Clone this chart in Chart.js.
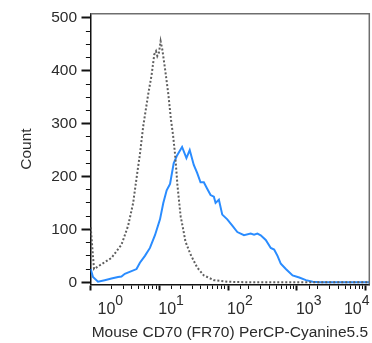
<!DOCTYPE html>
<html>
<head>
<meta charset="utf-8">
<script src="https://cdn.jsdelivr.net/npm/chart.js@4.4.1/dist/chart.umd.min.js"></script>
<style>
html,body{margin:0;padding:0;background:#fff;}
#c{display:block;}
</style>
</head>
<body>
<canvas id="c" width="372" height="343"></canvas>
<script>
// ---- data (x given as log10 of fluorescence intensity) ----
const grayLogX = [0.003, 0.051, 0.158, 0.304, 0.450, 0.547, 0.620, 0.683, 0.718, 0.766, 0.839, 0.888, 0.927, 0.952, 0.971, 0.996, 1.019, 1.044, 1.083, 1.131, 1.170, 1.200, 1.229, 1.245, 1.262, 1.285, 1.310, 1.346, 1.380, 1.453, 1.550, 1.647, 1.793, 1.988, 2.300, 3.000, 4.052];
const grayCounts = [104, 25, 34, 46, 71, 107, 150, 210, 242, 295, 356, 392, 431, 437, 428, 435, 456, 440, 404, 356, 307, 278, 242, 216, 186, 156, 125, 101, 77, 53, 28, 13, 4, 1, 0, 0, 0];

const blueLogX = [0.003, 0.036, 0.109, 0.207, 0.304, 0.401, 0.450, 0.499, 0.596, 0.669, 0.718, 0.791, 0.864, 0.937, 1.010, 1.058, 1.107, 1.156, 1.209, 1.258, 1.331, 1.394, 1.442, 1.501, 1.550, 1.599, 1.647, 1.696, 1.745, 1.793, 1.818, 1.866, 1.915, 1.988, 2.061, 2.134, 2.231, 2.328, 2.377, 2.426, 2.474, 2.547, 2.620, 2.669, 2.718, 2.766, 2.839, 2.937, 3.034, 3.131, 3.229, 3.326, 4.052];
const blueCounts = [25, 10, 1, 4, 7, 10, 11, 16, 21, 25, 37, 50, 65, 89, 119, 150, 174, 186, 225, 240, 256, 235, 250, 222, 207, 189, 189, 177, 165, 162, 150, 156, 128, 119, 107, 95, 89, 92, 90, 92, 89, 80, 65, 62, 50, 35, 25, 13, 9, 4, 1, 0, 0];

const yLabelTicks = [0, 100, 200, 300, 400, 500];
const yMinorStep = 25;
const xDecadeExps = [0, 1, 2, 3, 4];
const xTitleText = 'Mouse CD70 (FR70) PerCP-Cyanine5.5';
const yTitleText = 'Count';

// ---- chart ----
const FONT = '"Liberation Sans", Arial, sans-serif';
const TEXT = '#2b2b2b';
const AXIS = '#111111';

const toPoints = (lx, ys) => lx.map((e, i) => ({x: Math.pow(10, e), y: ys[i]}));
const isDecade = v => Math.abs(Math.log10(v) - Math.round(Math.log10(v))) < 1e-6;

const boxPlugin = {
  id: 'box',
  afterDraw(chart) {
    const {ctx, chartArea: a} = chart;
    ctx.save();
    ctx.strokeStyle = '#6e6e6e';
    ctx.lineWidth = 1.5;
    ctx.beginPath();
    ctx.moveTo(a.left, a.top);
    ctx.lineTo(a.right, a.top);
    ctx.lineTo(a.right, a.bottom);
    ctx.stroke();
    ctx.restore();
  }
};

const xLabelPlugin = {
  id: 'xDecadeLabels',
  afterDraw(chart) {
    const {ctx, chartArea: a} = chart;
    const xs = chart.scales.x;
    ctx.save();
    ctx.fillStyle = TEXT;
    ctx.textAlign = 'left';
    ctx.textBaseline = 'alphabetic';
    xDecadeExps.forEach(e => {
      const px = xs.getPixelForValue(Math.pow(10, e));
      ctx.font = '16px ' + FONT;
      const wBase = ctx.measureText('10').width;
      ctx.font = '14px ' + FONT;
      const wSup = ctx.measureText(String(e)).width;
      const w = wBase + wSup;
      let left = px - 1;
      if (left < a.left + 7) left = a.left + 7;
      if (left + w > chart.width - 2.5) left = chart.width - 2.5 - w;
      ctx.font = '16px ' + FONT;
      ctx.fillText('10', left, a.bottom + 29);
      ctx.font = '14px ' + FONT;
      ctx.fillText(String(e), left + wBase, a.bottom + 20);
    });
    ctx.restore();
  }
};

new Chart(document.getElementById('c'), {
  type: 'line',
  data: {
    datasets: [
      {
        label: 'Isotype',
        data: toPoints(grayLogX, grayCounts),
        borderColor: '#5f5f5f',
        borderWidth: 2,
        borderDash: [2, 2],
        pointRadius: 0,
        tension: 0,
        fill: false
      },
      {
        label: 'CD70',
        data: toPoints(blueLogX, blueCounts),
        borderColor: '#2a8cff',
        borderWidth: 2,
        pointRadius: 0,
        tension: 0,
        fill: false
      }
    ]
  },
  options: {
    responsive: false,
    animation: false,
    devicePixelRatio: 1,
    layout: {padding: {top: 5, right: 2.7, bottom: 0, left: 0}},
    plugins: {legend: {display: false}, tooltip: {enabled: false}},
    scales: {
      x: {
        type: 'logarithmic',
        min: 1,
        max: Math.pow(10, 4.052),
        afterFit: s => { s.height = 58.5; },
        border: {display: true, color: AXIS, width: 1.5},
        grid: {
          drawOnChartArea: false,
          drawTicks: true,
          tickLength: 6,
          tickWidth: c => (c.tick && isDecade(c.tick.value)) ? 2 : 1,
          tickColor: c => (c.tick && c.tick.value > 10001) ? 'rgba(0,0,0,0)' : AXIS,
          tickBorderDash: c => (c.tick && isDecade(c.tick.value)) ? [] : [3.5, 100]
        },
        ticks: {display: false, autoSkip: false},
        title: {
          display: true,
          text: xTitleText,
          color: TEXT,
          font: {family: FONT, size: 15.5},
          padding: {top: 0, bottom: 1.4}
        }
      },
      y: {
        type: 'linear',
        min: -4.2,
        max: 508,
        afterFit: s => { s.width = 90.5; },
        afterBuildTicks: s => {
          const t = [];
          for (let v = 0; v <= 500; v += yMinorStep) t.push({value: v});
          s.ticks = t;
        },
        border: {display: true, color: AXIS, width: 1.5},
        grid: {
          drawOnChartArea: false,
          drawTicks: true,
          tickLength: 9,
          tickWidth: c => (c.tick && c.tick.value % 100 === 0) ? 2 : 1,
          tickColor: AXIS,
          tickBorderDash: c => (c.tick && c.tick.value % 100 === 0) ? [] : [4.7, 100],
          tickBorderDashOffset: c => (c.tick && c.tick.value % 100 === 0) ? 0 : 100.3
        },
        ticks: {
          autoSkip: false,
          padding: 4.4,
          color: TEXT,
          font: {family: FONT, size: 15.5},
          callback: v => yLabelTicks.includes(v) ? String(v) : ''
        },
        title: {
          display: true,
          text: yTitleText,
          color: TEXT,
          font: {family: FONT, size: 15.5},
          padding: {top: 17.6, bottom: 0}
        }
      }
    }
  },
  plugins: [boxPlugin, xLabelPlugin]
});
</script>
</body>
</html>
